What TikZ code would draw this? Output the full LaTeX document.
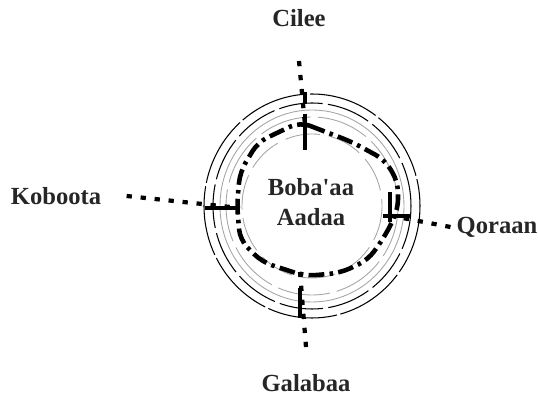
\documentclass[tikz,border=0pt]{standalone}
\usepackage{fontspec}
\setmainfont{Liberation Serif}
\usetikzlibrary{calc}

\begin{document}
\begin{tikzpicture}[x=0.02cm,y=-0.02cm,
	place/.style={font=\fontsize{14}{16}\selectfont\bfseries, text=black!85},
	ring/.style={line width=0.6pt},
	greyring/.style={gray!70, line width=0.5pt},
	wall/.style={line width=2.6pt, dash pattern=on 9pt off 3pt on 2pt off 3pt, rounded corners=6pt},
	road/.style={line width=2.4pt, dash pattern=on 3pt off 5pt},
	cross/.style={line width=2.4pt}]

	\useasboundingbox (0,0) rectangle (538,398);

	% centre of the town
	\coordinate (O) at (312,206);

	% rings round the town (just for the look of the scan)
	\draw[ring, dash pattern=on 40pt off 2pt] (O) ellipse (108 and 112);
	\draw[ring, dash pattern=on 25pt off 3pt] (O) ellipse (99 and 103);
	\draw[greyring] (O) ellipse (92 and 96);
	\draw[greyring, dash pattern=on 30pt off 4pt] (O) ellipse (86 and 89);
	\draw[greyring, dash pattern=on 20pt off 5pt] (O) ellipse (70 and 72);

	% inner wall
	\draw[wall] (300,122) -- (352,142) -- (385,160) -- (398,182) -- (398,210)
		-- (385,236) -- (368,260) -- (340,273) -- (305,276) -- (262,262)
		-- (240,240) -- (237,205) -- (240,172) -- (258,142) -- cycle;

	% names
	\node[place] (cilee) at (299,18) {Cilee};
	\node[place] (galabaa) at (306,383) {Galabaa};
	\node[place] (koboota) at (56,196) {Koboota};
	\node[place] (qoraan) at (497,227) {Qoraan};
	\node[place, align=center, font=\fontsize{14}{17}\selectfont\bfseries]
		(town) at (311,202) {Boba\textquotesingle aa\\Aadaa};

	% gates
	\coordinate (topgate) at (305,125);
	\coordinate (botgate) at (300,272);
	\coordinate (leftgate) at (240,208);
	\coordinate (rightgate) at (392,216);

	% roads to the gates
	\draw[road] ([yshift=-16]cilee.south) -- (topgate);
	\draw[road] ([yshift=12]galabaa.north) -- (botgate);
	\draw[road] ([xshift=11]koboota.east) -- (leftgate);
	\draw[road] (qoraan.west) -- (rightgate);

	% gate bars
	\draw[cross] (305,92) -- (305,104);
	\draw[cross] (305,114) -- (305,150);
	\draw[cross] (300,288) -- (300,318);
	\draw[cross] (205,208) -- (240,208);
	\draw[cross] (390,192) -- (390,222);
	\draw[cross] (383,216) -- (410,216);

\end{tikzpicture}
\end{document}
